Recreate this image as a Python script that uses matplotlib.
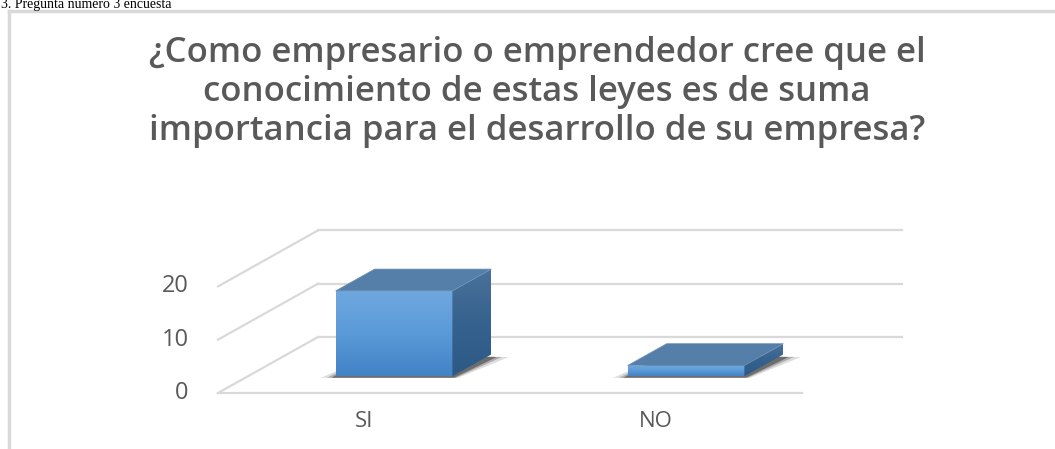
import numpy as np
import matplotlib.pyplot as plt
from matplotlib.patches import Polygon
from matplotlib.colors import LinearSegmentedColormap

# ---- data ----
categories = ['SI', 'NO']
values = [16, 2]
y_ticks = [0, 10, 20]
title = ('¿Como empresario o emprendedor cree que el\n'
         'conocimiento de estas leyes es de suma\n'
         'importancia para el desarrollo de su empresa?')
caption = '3. Pregunta número 3 encuesta'

# ---- layout (pixel geometry of the reference) ----
W, H = 1055, 449
px_x0, px_per_cat = 218, 292        # floor front-left corner, px per category
px_y0, px_per_unit = 393, 5.33      # y=0 at front, px per value unit
depth_dx = 100 / px_per_cat         # oblique depth offset, in x units
depth_dy = 56 / px_per_unit         # oblique depth offset, in value units
bar_w = 0.40
bar_d0, bar_d1 = 0.30, 0.69         # bar front/back depth fraction
grid_c = '#d9d9d9'
text_c = '#595959'

fig = plt.figure(figsize=(W / 100, H / 100), dpi=100)
ax = fig.add_axes([0, 0, 1, 1])
ax.axis('off')

x_lo, x_hi = -0.5, len(categories) - 0.5

# walls: left wall diagonals + back wall horizontals + floor front edge
for t in y_ticks:
    ax.plot([x_lo, x_lo + depth_dx], [t, t + depth_dy], color=grid_c, lw=1.6, zorder=1)
    ax.plot([x_lo + depth_dx, x_hi + depth_dx], [t + depth_dy] * 2, color=grid_c, lw=1.6, zorder=1)
ax.plot([x_lo, x_hi], [0, 0], color=grid_c, lw=1.6, zorder=1)

# tick labels
for t in y_ticks:
    ax.text(x_lo - 0.1, t, str(t), ha='right', va='center', color=text_c,
            fontsize=17, family='Open Sans')
for i, c in enumerate(categories):
    ax.text(i, -5.4, c, ha='center', va='center', color=text_c,
            fontsize=16, family='Open Sans')

front_cmap = LinearSegmentedColormap.from_list('f', ['#4283c6', '#5a9ad8', '#70a8df'])
side_cmap = LinearSegmentedColormap.from_list('s', ['#2c5985', '#36628f', '#4a7199'])
grad = np.linspace(0, 1, 64).reshape(-1, 1)

x_front = np.arange(len(categories)) + bar_d0 * depth_dx
base = bar_d0 * depth_dy
ddx = (bar_d1 - bar_d0) * depth_dx
ddy = (bar_d1 - bar_d0) * depth_dy

# soft shadow on the floor under each bar
for i, v in enumerate(values):
    xl, xr = x_front[i] - bar_w / 2, x_front[i] + bar_w / 2
    for k, a in zip([1.0, 0.6, 0.3], [0.15, 0.25, 0.45]):
        sh = Polygon([(xl - 0.05 * k, base - 0.3), (xr + 0.02 * k, base - 0.3),
                      (xr + ddx + 0.06 * k, base + ddy - 0.5), (xl + ddx, base + ddy)],
                     closed=True, color='#202020', alpha=a, lw=0, zorder=2)
        ax.add_patch(sh)

bars = ax.bar(x_front, values, width=bar_w, bottom=base, color='#5a9ad8',
              lw=0, zorder=3)

for i, (b, v) in enumerate(zip(bars, values)):
    xl, xr = x_front[i] - bar_w / 2, x_front[i] + bar_w / 2
    yb, yt = base, base + v
    im = ax.imshow(grad, cmap=front_cmap, origin='lower', aspect='auto',
                   extent=[xl, xr, yb, yt], zorder=3.1)
    im.set_clip_path(b)
    side = Polygon([(xr, yb), (xr + ddx, yb + ddy), (xr + ddx, yt + ddy), (xr, yt)],
                   closed=True, facecolor='none', lw=0, zorder=3)
    ax.add_patch(side)
    im2 = ax.imshow(grad, cmap=side_cmap, origin='lower', aspect='auto',
                    extent=[xr, xr + ddx, yb, yt + ddy], zorder=3.1)
    im2.set_clip_path(side)
    topf = Polygon([(xl, yt), (xr, yt), (xr + ddx, yt + ddy), (xl + ddx, yt + ddy)],
                   closed=True, facecolor='#557ea8', edgecolor='#6b92b8', lw=0.5, zorder=3.2)
    ax.add_patch(topf)

ax.set_xlim(-0.5 - px_x0 / px_per_cat, -0.5 + (W - px_x0) / px_per_cat)
ax.set_ylim(-(H - px_y0) / px_per_unit, px_y0 / px_per_unit)

# title
fig.text(537 / W, 1 - 92 / H, title, ha='center', va='center', color=text_c,
         fontsize=25, fontweight='semibold', family='Open Sans', linespacing=1.2)

# chart frame (top and left edges visible)
fig.add_artist(plt.Line2D([8.5 / W, 1], [1 - 11 / H] * 2, color='#d9d9d9', lw=2.5))
fig.add_artist(plt.Line2D([8.5 / W] * 2, [0, 1 - 11 / H], color='#d9d9d9', lw=2.5))

# document caption above the frame
fig.text(1 / W, 1 - 8 / H, caption, ha='left', va='baseline', color='black',
         fontsize=10, family='Liberation Serif')

fig.savefig('out.png', dpi=100)
